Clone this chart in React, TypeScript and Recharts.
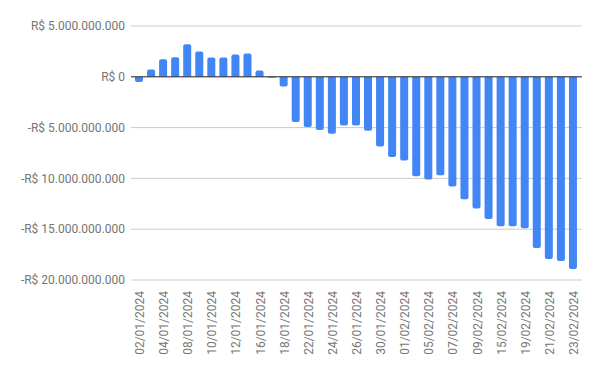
import React from "react";
import { BarChart, Bar, XAxis, YAxis, CartesianGrid, ReferenceLine } from "recharts";

const dates = [
  "02/01/2024", "03/01/2024", "04/01/2024", "05/01/2024", "08/01/2024", "09/01/2024",
  "10/01/2024", "11/01/2024", "12/01/2024", "15/01/2024", "16/01/2024", "17/01/2024",
  "18/01/2024", "19/01/2024", "22/01/2024", "23/01/2024", "24/01/2024", "25/01/2024",
  "26/01/2024", "29/01/2024", "30/01/2024", "31/01/2024", "01/02/2024", "02/02/2024",
  "05/02/2024", "06/02/2024", "07/02/2024", "08/02/2024", "09/02/2024", "14/02/2024",
  "15/02/2024", "16/02/2024", "19/02/2024", "20/02/2024", "21/02/2024", "22/02/2024",
  "23/02/2024",
];

const values = [
  -500000000, 730000000, 1730000000, 1930000000, 3200000000, 2500000000,
  1900000000, 1900000000, 2200000000, 2300000000, 630000000, -100000000,
  -950000000, -4450000000, -4940000000, -5240000000, -5600000000, -4800000000,
  -4800000000, -5300000000, -6870000000, -7900000000, -8250000000, -9800000000,
  -10100000000, -9700000000, -10800000000, -12050000000, -12970000000, -14000000000,
  -14700000000, -14700000000, -14900000000, -16860000000, -17940000000, -18140000000,
  -18920000000,
];

const yTicks = [5000000000, 0, -5000000000, -10000000000, -15000000000, -20000000000];

const data = dates.map((d, i) => ({ date: d, value: values[i] }));

const formatBRL = (v: number) => {
  const abs = Math.abs(v).toFixed(0).replace(/\B(?=(\d{3})+(?!\d))/g, ".");
  return (v < 0 ? "-" : "") + "R$ " + abs;
};

const XTick = (props: any) => {
  const { x, y, payload } = props;
  return (
    <text
      x={0}
      y={0}
      transform={`translate(${x + 5}, ${y}) rotate(-90)`}
      textAnchor="end"
      fill="#757575"
      fontSize={12}
      fontFamily="Roboto"
    >
      {payload.value}
    </text>
  );
};

export default function App() {
  return (
    <div style={{ position: "absolute", left: 0, top: 0, background: "#fff" }}>
      <BarChart
        width={600}
        height={371}
        data={data}
        margin={{ top: 26, right: 18, bottom: 0, left: 0 }}
        barSize={8}
      >
        <CartesianGrid vertical={false} stroke="#cccccc" />
        <XAxis
          dataKey="date"
          interval={1}
          tick={<XTick />}
          tickLine={false}
          axisLine={false}
          height={91}
          padding={{ left: 2, right: 3 }}
          tickMargin={5}
        />
        <YAxis
          domain={[-20000000000, 5000000000]}
          ticks={yTicks}
          tickFormatter={formatBRL}
          tickLine={false}
          axisLine={false}
          tickSize={0}
          tickMargin={6}
          width={131}
          tick={{ fill: "#757575", fontSize: 12, fontFamily: "Roboto" }}
          interval={0}
        />
        <ReferenceLine y={0} stroke="#333333" strokeWidth={1} />
        <Bar dataKey="value" fill="#4285F4" radius={[2, 2, 0, 0]} isAnimationActive={false} />
      </BarChart>
    </div>
  );
}
